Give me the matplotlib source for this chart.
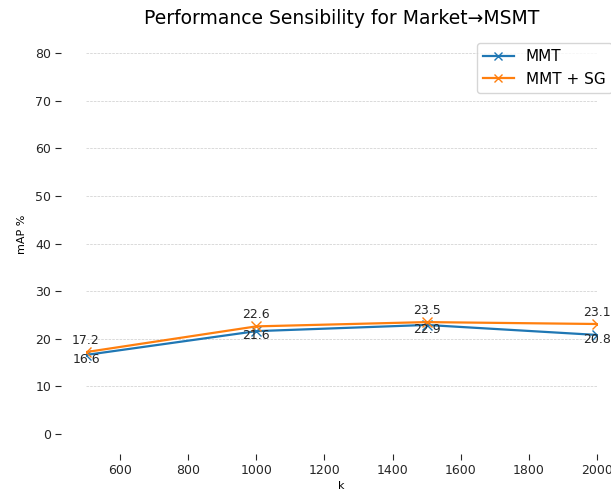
import numpy as np
import matplotlib.pyplot as plt

# Daten
k = [500, 1000, 1500, 2000]
mmt = [16.6, 21.6, 22.9, 20.8]
mmt_sg = [17.2, 22.6, 23.5, 23.1]
labels = ['MMT', 'MMT + SG']

W, H = 611, 494
fig = plt.figure(figsize=(W/100, H/100), dpi=100)
ax = fig.add_axes([86/W, 1-434/H, (597-86)/W, (434-34)/H])

ax.plot(k, mmt, marker='x', markersize=7, color='#1f77b4', lw=1.6, label=labels[0])
ax.plot(k, mmt_sg, marker='x', markersize=7, color='#ff7f0e', lw=1.6, label=labels[1])

# Werte an die Punkte schreiben
for x, y in zip(k, mmt):
    ax.annotate(f'{y}', (x, y), xytext=(0, -3), textcoords='offset points',
                ha='center', va='center', fontsize=9, color='#262626')
for x, y in zip(k, mmt_sg):
    ax.annotate(f'{y}', (x, y), xytext=(0, 8.6), textcoords='offset points',
                ha='center', va='center', fontsize=9, color='#262626')

ax.set_xlim(500, 2000)
ax.set_ylim(0, 84)
ax.set_yticks(range(0, 81, 10))
ax.set_xticks(range(600, 2001, 200))
ax.yaxis.grid(True, linestyle='--', color='#cccccc', lw=0.5)
ax.set_axisbelow(True)
ax.spines['left'].set_position(('outward', 18))
ax.spines['bottom'].set_position(('outward', 14.4))
for s in ax.spines.values():
    s.set_visible(False)
ax.tick_params(labelsize=9, length=4, pad=3, colors='#262626')
ax.set_xlabel('k', fontsize=8, labelpad=3)
ax.set_ylabel('mAP %', fontsize=8, labelpad=6)
ax.set_title('Performance Sensibility for Market→MSMT', fontsize=13.5, pad=7)
fig.legend(loc='upper left', bbox_to_anchor=(477/W, 1-43/H), borderaxespad=0,
           fontsize=11, markerscale=0.85)

fig.savefig('out.png', dpi=100)
